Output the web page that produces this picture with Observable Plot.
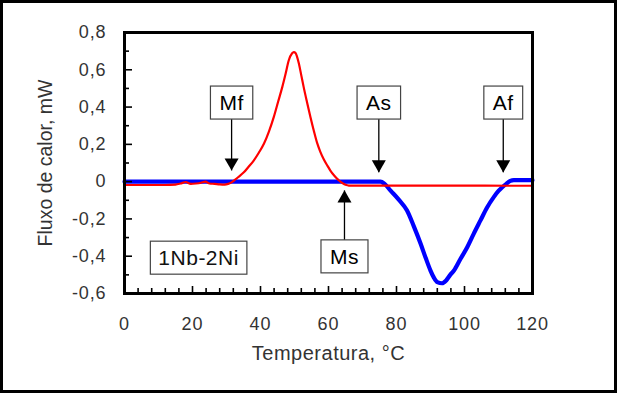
<!DOCTYPE html>
<html><head><meta charset="utf-8">
<script src="https://cdn.jsdelivr.net/npm/d3@7"></script>
<script src="https://cdn.jsdelivr.net/npm/@observablehq/plot@0.6"></script>
<style>
body{margin:0;background:#fff}
#wrap{position:relative;width:617px;height:395px;overflow:hidden;background:#fff}
#border{position:absolute;left:0;top:0;width:617px;height:393px;box-sizing:border-box;border:3px solid #000;pointer-events:none}
svg{font-family:"Liberation Sans",Arial,sans-serif}
</style></head><body><div id="wrap"><div id="border"></div></div>
<script>
// Blue curve (heating)
const blueT = [0, 75.3, 76.5, 78.2, 80.6, 83.1, 85.1, 87.1, 88.6, 90, 91, 92, 93.4, 94.6, 95.8, 96.9, 98.8, 100.8, 102.7, 104.7, 106.6, 108.6, 110, 111.1, 112.3, 113.5, 114.5, 120];
const blueQ = [0, 0, -0.012, -0.047, -0.095, -0.155, -0.24, -0.333, -0.41, -0.477, -0.515, -0.539, -0.545, -0.53, -0.5, -0.477, -0.415, -0.352, -0.28, -0.208, -0.14, -0.083, -0.05, -0.03, -0.012, 0.004, 0.008, 0.008];
// Red curve (cooling)
const redT = [0, 12, 15, 16.5, 18, 19.5, 21, 22.5, 23.8, 25, 26.5, 28, 29.5, 30.5, 31.5, 32.2, 33.5, 35.1, 36.5, 38, 39.5, 41, 42.5, 43.9, 45.2, 46.4, 47.4, 48.3, 49.3, 49.8, 50.3, 51.3, 52, 52.7, 53.7, 54.7, 55.7, 56.7, 57.6, 58.6, 59.6, 60.6, 61.6, 62.4, 63.1, 64, 65, 66, 120];
const redQ = [-0.018, -0.018, -0.016, -0.01, -0.002, -0.012, -0.01, -0.006, 0.0, -0.01, -0.012, -0.015, -0.016, -0.012, -0.004, 0.006, 0.025, 0.05, 0.08, 0.113, 0.155, 0.203, 0.27, 0.346, 0.43, 0.507, 0.58, 0.65, 0.689, 0.695, 0.69, 0.632, 0.57, 0.507, 0.425, 0.346, 0.272, 0.205, 0.16, 0.12, 0.088, 0.058, 0.034, 0.018, 0.006, -0.007, -0.017, -0.021, -0.022];

const yTicks = [-0.6, -0.4, -0.2, 0, 0.2, 0.4, 0.6, 0.8];
const yTickLabels = ["-0,6", "-0,4", "-0,2", "0", "0,2", "0,4", "0,6", "0,8"];
const yMinor = [-0.5, -0.3, -0.1, 0.1, 0.3, 0.5, 0.7];
const xTicks = [0, 20, 40, 60, 80, 100, 120];
const xTickLabels = ["0", "20", "40", "60", "80", "100", "120"];
const xMinor = [4, 8, 12, 16, 24, 28, 32, 36, 44, 48, 52, 56, 64, 68, 72, 76, 84, 88, 92, 96, 104, 108, 112, 116];

const annLabels = ["Mf", "As", "Af", "Ms"];
const annX = [31.5, 74.8, 111.4, 64.7];
const annBoxY = [0.42, 0.42, 0.42, -0.405];
const annTipY = [0.06, 0.05, 0.05, -0.047];
const annDir = ["down", "down", "down", "up"];
const sampleLabel = ["1Nb-2Ni"];
const sampleX = [21.8];
const sampleY = [-0.412];

const xTitle = "Temperatura, °C";
const yTitle = "Fluxo de calor, mW";

const blue = blueT.map((t, i) => ({t, q: blueQ[i]}));
const red = redT.map((t, i) => ({t, q: redQ[i]}));
const ann = annLabels.map((label, i) => ({label, x: annX[i], boxY: annBoxY[i], tip: annTipY[i], dir: annDir[i]}));
const sample = sampleLabel.map((label, i) => ({label, x: sampleX[i], y: sampleY[i]}));

const W = 617, H = 395, ML = 124, MR = 85, MT = 32, MB = 102;
const FW = W - ML - MR, FH = H - MT - MB;

const plot = Plot.plot({
  width: W, height: H,
  marginLeft: ML, marginRight: MR, marginTop: MT, marginBottom: MB,
  x: {domain: [0, 120], axis: null},
  y: {domain: [-0.6, 0.8], axis: null},
  marks: [
    Plot.line(blue, {x: "t", y: "q", stroke: "#0000ff", strokeWidth: 4.2, curve: "monotone-x"}),
    Plot.line(red, {x: "t", y: "q", stroke: "#ff0000", strokeWidth: 2.2, curve: "monotone-x"}),
    Plot.link(ann, {x1: "x", x2: "x", y1: "boxY", y2: "tip", stroke: "black", strokeWidth: 1.3}),
    Plot.dot(ann.filter(d => d.dir === "down"), {x: "x", y: "tip", symbol: "triangle", r: 5.2, fill: "black", stroke: null, rotate: 180, dy: -8}),
    Plot.dot(ann.filter(d => d.dir === "up"), {x: "x", y: "tip", symbol: "triangle", r: 5.2, fill: "black", stroke: null, dy: 8}),
    Plot.text(ann, {x: "x", y: "boxY", text: "label", fontSize: 21, fill: "black"}),
    Plot.text(sample, {x: "x", y: "y", text: "label", fontSize: 21, fill: "#111"}),
    // inward ticks
    Plot.tickY(yTicks, {y: d => d, insetRight: FW - 8, stroke: "black", strokeWidth: 1.6}),
    Plot.tickY(yMinor, {y: d => d, insetRight: FW - 5, stroke: "black", strokeWidth: 1.6}),
    Plot.tickX(xTicks, {x: d => d, insetTop: FH - 7, stroke: "black", strokeWidth: 1.6}),
    Plot.tickX(xMinor, {x: d => d, insetTop: FH - 5, stroke: "black", strokeWidth: 1.6}),
    Plot.frame({stroke: "black", strokeWidth: 3}),
    Plot.axisY(yTicks, {anchor: "left", tickSize: 0, tickPadding: 18, tickFormat: d => yTickLabels[yTicks.indexOf(d)], label: null, fontSize: 18, color: "#333"}),
    Plot.axisX(xTicks, {anchor: "bottom", tickSize: 0, tickPadding: 24, tickFormat: d => xTickLabels[xTicks.indexOf(d)], label: null, fontSize: 18, color: "#333"}),
    Plot.text([xTitle], {frameAnchor: "bottom", dy: 66, fontSize: 20, fill: "#333"}),
    Plot.text([yTitle], {frameAnchor: "left", textAnchor: "middle", dx: -79, rotate: -90, fontSize: 19.5, fill: "#333"})
  ]
});

const wrap = document.getElementById("wrap");
wrap.insertBefore(plot, wrap.firstChild);

const boxed = new Set([...annLabels, ...sampleLabel]);
const tickSet = new Set([...yTickLabels, ...xTickLabels]);
plot.querySelectorAll("text").forEach(t => {
  const s = t.textContent;
  if (tickSet.has(s)) t.style.letterSpacing = "0.9px";
  if (s === xTitle) t.style.letterSpacing = "0.5px";
  if (boxed.has(s)) {
    t.style.letterSpacing = "0.5px";
    const b = t.getBBox();
    const padX = s.length > 3 ? 8 : 9, padY = 5;
    const r = document.createElementNS("http://www.w3.org/2000/svg", "rect");
    r.setAttribute("x", b.x - padX);
    r.setAttribute("y", b.y - padY);
    r.setAttribute("width", b.width + 2 * padX);
    r.setAttribute("height", b.height + 2 * padY);
    r.setAttribute("fill", "white");
    r.setAttribute("stroke", "#444");
    r.setAttribute("stroke-width", "1.2");
    if (t.getAttribute("transform")) r.setAttribute("transform", t.getAttribute("transform"));
    t.parentNode.insertBefore(r, t);
  }
});
</script>
</body></html>
